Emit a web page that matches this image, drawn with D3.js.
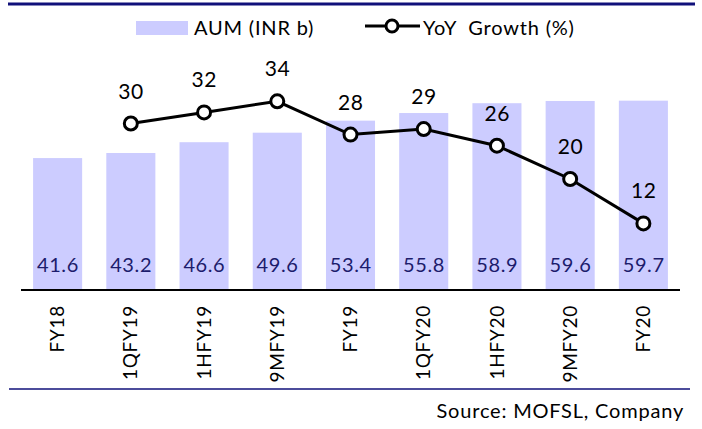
<!DOCTYPE html>
<html>
<head>
<meta charset="utf-8">
<script src="https://cdn.jsdelivr.net/npm/d3@7"></script>
<style>
  body { margin: 0; background: #fff; }
  svg text { font-family: Lato, "Open Sans", sans-serif; }
</style>
</head>
<body>
<svg id="chart" width="702" height="429"></svg>
<script>
// chart data
var categories = ["FY18", "1QFY19", "1HFY19", "9MFY19", "FY19", "1QFY20", "1HFY20", "9MFY20", "FY20"];
var aum = [41.6, 43.2, 46.6, 49.6, 53.4, 55.8, 58.9, 59.6, 59.7];
var yoyGrowth = [null, 30, 32, 34, 28, 29, 26, 20, 12];

var svg = d3.select("#chart");
var navy = "#10107a";

var x = d3.scaleBand()
    .domain(categories)
    .range([21, 680])
    .paddingInner(0.33)
    .paddingOuter(0.165);

var y = d3.scaleLinear().domain([0, 70]).range([290, 68]);
var y2 = d3.scaleLinear().domain([0, 40]).range([290, 68]);

// frame lines
svg.append("line")
    .attr("x1", 8).attr("x2", 695).attr("y1", 4).attr("y2", 4)
    .attr("stroke", navy).attr("stroke-width", 3);
svg.append("line")
    .attr("x1", 9).attr("x2", 690).attr("y1", 389).attr("y2", 389)
    .attr("stroke", navy).attr("stroke-width", 1.5);

// bars
svg.append("g").selectAll("rect")
    .data(aum)
    .enter().append("rect")
      .attr("x", function(d, i) { return x(categories[i]); })
      .attr("y", function(d) { return y(d); })
      .attr("width", x.bandwidth())
      .attr("height", function(d) { return y(0) - y(d); })
      .attr("fill", "#ccccff");

svg.append("g").selectAll("text")
    .data(aum)
    .enter().append("text")
      .attr("x", function(d, i) { return x(categories[i]) + x.bandwidth() / 2 + 0.3; })
      .attr("y", y(0) - 18)
      .attr("text-anchor", "middle")
      .attr("font-size", 20)
      .attr("letter-spacing", 0.6)
      .attr("fill", "#1c1c6c")
      .text(function(d) { return d.toFixed(1); });

// x axis baseline
svg.append("line")
    .attr("x1", 21).attr("x2", 680).attr("y1", y(0)).attr("y2", y(0))
    .attr("stroke", "#000").attr("stroke-width", 2);

// category labels
svg.append("g").selectAll("text")
    .data(categories)
    .enter().append("text")
      .attr("transform", function(d) {
        return "translate(" + (x(d) + x.bandwidth() / 2) + ",305) rotate(-90)";
      })
      .attr("text-anchor", "end")
      .attr("dy", "0.35em")
      .attr("font-size", 19)
      .attr("letter-spacing", 0.7)
      .attr("fill", "#000")
      .text(function(d) { return d; });

// growth line
var pts = yoyGrowth.map(function(v, i) { return {cat: categories[i], v: v}; })
    .filter(function(p) { return p.v != null; });

var line = d3.line()
    .x(function(p) { return x(p.cat) + x.bandwidth() / 2; })
    .y(function(p) { return y2(p.v); });

svg.append("path")
    .datum(pts)
    .attr("d", line)
    .attr("fill", "none")
    .attr("stroke", "#000")
    .attr("stroke-width", 3);

svg.append("g").selectAll("circle")
    .data(pts)
    .enter().append("circle")
      .attr("cx", function(p) { return x(p.cat) + x.bandwidth() / 2; })
      .attr("cy", function(p) { return y2(p.v); })
      .attr("r", 6.5)
      .attr("fill", "#fff")
      .attr("stroke", "#000")
      .attr("stroke-width", 3);

svg.append("g").selectAll("text")
    .data(pts)
    .enter().append("text")
      .attr("x", function(p) { return x(p.cat) + x.bandwidth() / 2 + 0.3; })
      .attr("y", function(p) { return y2(p.v) - 25; })
      .attr("text-anchor", "middle")
      .attr("font-size", 21)
      .attr("letter-spacing", 0.6)
      .attr("fill", "#000")
      .text(function(p) { return p.v; });

// legend
var legend = svg.append("g");
legend.append("rect")
    .attr("x", 136).attr("y", 21).attr("width", 52).attr("height", 14)
    .attr("fill", "#ccccff");
legend.append("text")
    .attr("x", 194).attr("y", 28).attr("dy", "0.35em")
    .attr("font-size", 20)
    .attr("letter-spacing", 0.8)
    .text("AUM (INR b)");
legend.append("line")
    .attr("x1", 365).attr("x2", 420).attr("y1", 26).attr("y2", 26)
    .attr("stroke", "#000").attr("stroke-width", 3);
legend.append("circle")
    .attr("cx", 392).attr("cy", 26).attr("r", 6)
    .attr("fill", "#fff").attr("stroke", "#000").attr("stroke-width", 3);
legend.append("text")
    .attr("x", 423).attr("y", 28).attr("dy", "0.35em")
    .attr("font-size", 20)
    .attr("letter-spacing", 0.8)
    .attr("xml:space", "preserve")
    .style("white-space", "pre")
    .text("YoY  Growth (%)");

// source note
svg.append("text")
    .attr("x", 684).attr("y", 418)
    .attr("text-anchor", "end")
    .attr("font-size", 20)
    .attr("letter-spacing", 0.8)
    .text("Source: MOFSL, Company");
</script>
</body>
</html>
